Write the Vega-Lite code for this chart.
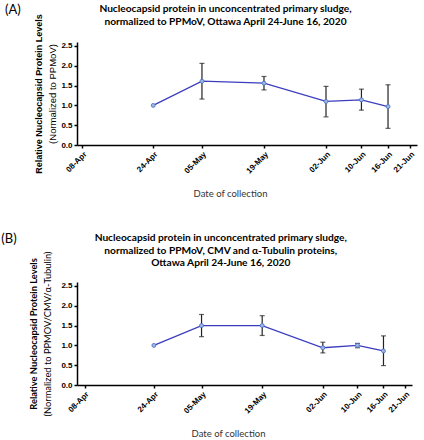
{
  "$schema": "https://vega.github.io/schema/vega-lite/v6.json",
  "padding": {"left": 1, "top": 3, "right": 2, "bottom": 0},
  "background": "white",
  "datasets": {
    "a": [
      {"date": "2020-04-24", "value": 1.0, "lo": null, "hi": null},
      {"date": "2020-05-05", "value": 1.61, "lo": 1.16, "hi": 2.06},
      {"date": "2020-05-19", "value": 1.56, "lo": 1.39, "hi": 1.73},
      {"date": "2020-06-02", "value": 1.10, "lo": 0.71, "hi": 1.48},
      {"date": "2020-06-10", "value": 1.14, "lo": 0.88, "hi": 1.41},
      {"date": "2020-06-16", "value": 0.97, "lo": 0.42, "hi": 1.52}
    ],
    "b": [
      {"date": "2020-04-24", "value": 1.0, "lo": null, "hi": null},
      {"date": "2020-05-05", "value": 1.50, "lo": 1.22, "hi": 1.78},
      {"date": "2020-05-19", "value": 1.50, "lo": 1.25, "hi": 1.75},
      {"date": "2020-06-02", "value": 0.94, "lo": 0.81, "hi": 1.08},
      {"date": "2020-06-10", "value": 1.00, "lo": 0.94, "hi": 1.05},
      {"date": "2020-06-16", "value": 0.86, "lo": 0.49, "hi": 1.24}
    ]
  },
  "spacing": 34,
  "vconcat": [
    {
      "title": {"text": "(A)", "orient": "left", "anchor": "end", "angle": 0, "frame": "bounds", "align": "right", "baseline": "top", "font": "Lato", "fontSize": 13, "fontWeight": "normal", "color": "black", "offset": -2.5},
      "vconcat": [
        {
          "width": 340,
          "height": 103,
          "title": {"text": ["Nucleocapsid protein in unconcentrated primary sludge,", "normalized to PPMoV,  Ottawa April 24-June 16, 2020"], "anchor": "middle", "frame": "bounds", "font": "Lato", "fontSize": 10.2, "fontWeight": "bold", "lineHeight": 13.5, "offset": -13.5, "color": "black"},
          "data": {"name": "a"},
          "encoding": {
            "x": {
              "field": "date", "type": "temporal",
              "scale": {"type": "utc", "domain": [{"year": 2020, "month": 4, "date": 6, "hours": 19, "utc": true}, {"year": 2020, "month": 6, "date": 22, "hours": 13, "utc": true}]},
              "axis": {
                "title": "Date of collection",
                "format": "%d-%b", "labelAngle": -45, "labelOverlap": false,
                "values": [
                  {"year": 2020, "month": 4, "date": 8, "utc": true},
                  {"year": 2020, "month": 4, "date": 24, "utc": true},
                  {"year": 2020, "month": 5, "date": 5, "utc": true},
                  {"year": 2020, "month": 5, "date": 19, "utc": true},
                  {"year": 2020, "month": 6, "date": 2, "utc": true},
                  {"year": 2020, "month": 6, "date": 10, "utc": true},
                  {"year": 2020, "month": 6, "date": 16, "utc": true},
                  {"year": 2020, "month": 6, "date": 21, "utc": true}
                ],
                "titleX": 153, "titlePadding": 14
              }
            }
          },
          "layer": [
            {
              "mark": {"type": "line", "color": "#3b3dbf", "strokeWidth": 1.3},
              "encoding": {
                "y": {"field": "value", "type": "quantitative", "scale": {"domain": [0, 2.5]},
                  "axis": {"orient": "left", "title": "(Normalized to PPMoV)", "titleFont": "Liberation Sans", "titleFontWeight": "normal", "titleFontSize": 9.5, "values": [0, 0.5, 1, 1.5, 2, 2.5], "format": ".1f", "titlePadding": 3}}
              }
            },
            {
              "transform": [{"filter": "datum.lo != null"}],
              "mark": {"type": "errorbar", "color": "#222222", "thickness": 1.2, "ticks": {"size": 5, "color": "#222222"}},
              "encoding": {
                "y": {"field": "lo", "type": "quantitative", "axis": null},
                "y2": {"field": "hi"}
              }
            },
            {
              "mark": {"type": "point", "shape": "circle", "filled": true, "size": 16, "fill": "#9ab8e6", "stroke": "#4b6cc0", "strokeWidth": 0.8, "opacity": 1},
              "encoding": {"y": {"field": "value", "type": "quantitative", "axis": null}}
            },
            {
              "mark": {"type": "rule", "opacity": 0},
              "encoding": {"y": {"datum": 0, "type": "quantitative",
                "axis": {"orient": "left", "title": "Relative Nucleocapsid Protein Levels", "titleFont": "Liberation Sans", "titleFontWeight": "bold", "titleFontSize": 9, "labels": false, "ticks": false, "domain": false, "titlePadding": 34}}}
            }
          ],
          "resolve": {"axis": {"y": "independent"}}
        }
      ]
    },
    {
      "title": {"text": "(B)", "orient": "left", "anchor": "end", "angle": 0, "frame": "bounds", "align": "right", "baseline": "top", "font": "Lato", "fontSize": 13, "fontWeight": "normal", "color": "black", "offset": -2.5},
      "vconcat": [
        {
          "width": 335,
          "height": 103,
          "title": {"text": ["Nucleocapsid protein in unconcentrated primary sludge,", "normalized to PPMoV,  CMV and α-Tubulin proteins,", "Ottawa April 24-June 16, 2020"], "anchor": "middle", "frame": "bounds", "font": "Lato", "fontSize": 10.2, "fontWeight": "bold", "lineHeight": 12.3, "offset": -17, "color": "black"},
          "data": {"name": "b"},
          "encoding": {
            "x": {
              "field": "date", "type": "temporal",
              "scale": {"type": "utc", "domain": [{"year": 2020, "month": 4, "date": 6, "hours": 6, "utc": true}, {"year": 2020, "month": 6, "date": 22, "hours": 14, "utc": true}]},
              "axis": {
                "title": "Date of collection",
                "format": "%d-%b", "labelAngle": -45, "labelOverlap": false,
                "values": [
                  {"year": 2020, "month": 4, "date": 8, "utc": true},
                  {"year": 2020, "month": 4, "date": 24, "utc": true},
                  {"year": 2020, "month": 5, "date": 5, "utc": true},
                  {"year": 2020, "month": 5, "date": 19, "utc": true},
                  {"year": 2020, "month": 6, "date": 2, "utc": true},
                  {"year": 2020, "month": 6, "date": 10, "utc": true},
                  {"year": 2020, "month": 6, "date": 16, "utc": true},
                  {"year": 2020, "month": 6, "date": 21, "utc": true}
                ],
                "titleX": 151, "titlePadding": 14
              }
            }
          },
          "layer": [
            {
              "mark": {"type": "line", "color": "#3b3dbf", "strokeWidth": 1.3},
              "encoding": {
                "y": {"field": "value", "type": "quantitative", "scale": {"domain": [0, 2.5]},
                  "axis": {"orient": "left", "title": "(Normalized to PPMOV/CMV/α-Tubulin)", "titleFont": "Lato", "titleFontWeight": "normal", "titleFontSize": 9.3, "values": [0, 0.5, 1, 1.5, 2, 2.5], "format": ".1f", "titlePadding": 8}}
              }
            },
            {
              "transform": [{"filter": "datum.lo != null"}],
              "mark": {"type": "errorbar", "color": "#222222", "thickness": 1.2, "ticks": {"size": 5, "color": "#222222"}},
              "encoding": {
                "y": {"field": "lo", "type": "quantitative", "axis": null},
                "y2": {"field": "hi"}
              }
            },
            {
              "mark": {"type": "point", "shape": "circle", "filled": true, "size": 16, "fill": "#9ab8e6", "stroke": "#4b6cc0", "strokeWidth": 0.8, "opacity": 1},
              "encoding": {"y": {"field": "value", "type": "quantitative", "axis": null}}
            },
            {
              "mark": {"type": "rule", "opacity": 0},
              "encoding": {"y": {"datum": 0, "type": "quantitative",
                "axis": {"orient": "left", "title": "Relative Nucleocapsid Protein Levels", "titleFont": "Lato", "titleFontWeight": "bold", "titleFontSize": 9.3, "labels": false, "ticks": false, "domain": false, "titlePadding": 38.5}}}
            }
          ],
          "resolve": {"axis": {"y": "independent"}}
        }
      ]
    }
  ],
  "config": {
    "view": {"stroke": null},
    "axis": {
      "grid": false,
      "domainColor": "black", "domainWidth": 1.5,
      "tickColor": "black", "tickWidth": 1.5, "tickSize": 3,
      "labelFont": "Liberation Sans", "labelFontWeight": "bold", "labelFontSize": 8, "labelColor": "black", "labelPadding": 2,
      "titleColor": "black", "titleFont": "Lato", "titleFontWeight": "normal", "titleFontSize": 9.5
    },
    "axisX": {"titleColor": "#333333"}
  }
}
